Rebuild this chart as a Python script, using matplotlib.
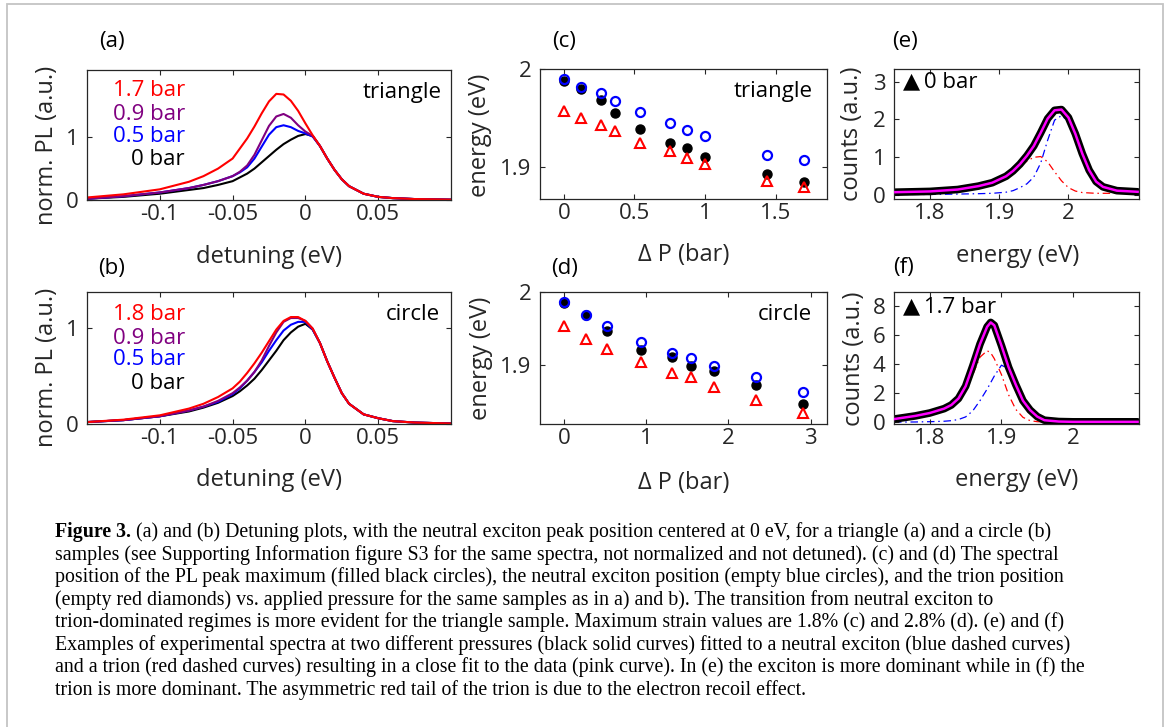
import matplotlib
matplotlib.use('Agg')
import matplotlib.pyplot as plt
from matplotlib.patches import Rectangle

plt.rcParams['font.family'] = ['Open Sans', 'DejaVu Sans']
plt.rcParams['axes.unicode_minus'] = False

# ---------------- data ----------------
# (a) / (b): normalized PL vs detuning
detuning = [-0.15, -0.125, -0.1, -0.08, -0.07, -0.06, -0.05, -0.045, -0.04, -0.035,
            -0.03, -0.025, -0.02, -0.015, -0.01, -0.005, 0.0, 0.005, 0.01, 0.015,
            0.02, 0.025, 0.03, 0.04, 0.05, 0.06, 0.075, 0.1]

tri_0bar = [0.02, 0.05, 0.10, 0.16, 0.19, 0.24, 0.30, 0.36, 0.42, 0.50, 0.60, 0.70, 0.80, 0.89,
            0.96, 1.02, 1.05, 1.02, 0.86, 0.66, 0.48, 0.33, 0.22, 0.10, 0.05, 0.03, 0.015, 0.005]
tri_05bar = [0.02, 0.06, 0.12, 0.19, 0.24, 0.30, 0.38, 0.44, 0.52, 0.66, 0.85, 1.04, 1.16, 1.19,
             1.16, 1.10, 1.06, 1.01, 0.86, 0.66, 0.48, 0.33, 0.22, 0.10, 0.05, 0.03, 0.015, 0.005]
tri_09bar = [0.02, 0.06, 0.12, 0.19, 0.24, 0.30, 0.38, 0.45, 0.55, 0.72, 0.95, 1.18, 1.33, 1.37,
             1.31, 1.19, 1.09, 1.02, 0.86, 0.66, 0.48, 0.33, 0.22, 0.10, 0.05, 0.03, 0.015, 0.005]
tri_17bar = [0.04, 0.09, 0.17, 0.29, 0.38, 0.50, 0.66, 0.82, 0.98, 1.17, 1.38, 1.57, 1.69, 1.68,
             1.58, 1.42, 1.22, 1.03, 0.86, 0.66, 0.48, 0.33, 0.22, 0.10, 0.05, 0.03, 0.015, 0.005]

cir_0bar = [0.02, 0.04, 0.08, 0.13, 0.17, 0.22, 0.29, 0.34, 0.40, 0.47, 0.56, 0.66, 0.76, 0.87,
            0.95, 1.01, 1.04, 0.98, 0.84, 0.65, 0.48, 0.32, 0.21, 0.10, 0.06, 0.03, 0.015, 0.005]
cir_05bar = [0.02, 0.04, 0.08, 0.14, 0.18, 0.23, 0.31, 0.37, 0.45, 0.54, 0.64, 0.76, 0.87, 0.97,
             1.03, 1.06, 1.06, 0.98, 0.84, 0.65, 0.48, 0.32, 0.21, 0.10, 0.06, 0.03, 0.015, 0.005]
cir_09bar = [0.02, 0.04, 0.08, 0.14, 0.18, 0.24, 0.32, 0.38, 0.45, 0.54, 0.66, 0.81, 0.95, 1.06,
             1.10, 1.10, 1.07, 0.99, 0.84, 0.65, 0.48, 0.32, 0.21, 0.10, 0.06, 0.03, 0.015, 0.005]
cir_18bar = [0.02, 0.045, 0.09, 0.16, 0.21, 0.28, 0.37, 0.44, 0.53, 0.63, 0.74, 0.86, 0.98, 1.07,
             1.11, 1.11, 1.07, 0.99, 0.84, 0.65, 0.48, 0.32, 0.21, 0.10, 0.06, 0.03, 0.015, 0.005]

# (c) triangle: peak energies vs pressure
dp_tri = [0, 0.12, 0.26, 0.36, 0.54, 0.75, 0.87, 1.0, 1.44, 1.7]
tri_peak = [1.988, 1.980, 1.969, 1.955, 1.939, 1.925, 1.920, 1.911, 1.893, 1.885]
tri_exciton = [1.990, 1.982, 1.976, 1.968, 1.956, 1.945, 1.938, 1.932, 1.913, 1.908]
tri_trion = [1.957, 1.950, 1.943, 1.937, 1.925, 1.917, 1.910, 1.904, 1.886, 1.880]

# (d) circle
dp_cir = [0, 0.27, 0.53, 0.94, 1.31, 1.55, 1.82, 2.34, 2.91]
cir_peak = [1.985, 1.968, 1.947, 1.921, 1.911, 1.899, 1.892, 1.873, 1.847]
cir_exciton = [1.986, 1.969, 1.954, 1.932, 1.916, 1.909, 1.899, 1.883, 1.863]
cir_trion = [1.953, 1.935, 1.922, 1.904, 1.889, 1.883, 1.870, 1.852, 1.834]

# (e) spectrum at 0 bar and fit components
energy_e = [1.75, 1.8, 1.84, 1.87, 1.89, 1.91, 1.92, 1.93, 1.94, 1.95, 1.96, 1.97, 1.98, 1.99,
            2.0, 2.01, 2.02, 2.03, 2.04, 2.05, 2.07, 2.1]
counts_e = [0.08, 0.10, 0.15, 0.24, 0.33, 0.50, 0.64, 0.82, 1.04, 1.30, 1.65, 2.02, 2.24, 2.26,
            2.05, 1.62, 1.10, 0.66, 0.36, 0.22, 0.12, 0.09]
trion_e = [0.07, 0.09, 0.14, 0.22, 0.32, 0.48, 0.60, 0.75, 0.90, 1.00, 1.02, 0.88, 0.62, 0.38,
           0.20, 0.11, 0.07, 0.06, 0.05, 0.05, 0.05, 0.05]
exciton_e = [0.02, 0.02, 0.03, 0.04, 0.05, 0.08, 0.12, 0.20, 0.30, 0.48, 0.85, 1.45, 1.98, 2.10,
             1.95, 1.55, 1.05, 0.62, 0.32, 0.17, 0.08, 0.05]

# (f) spectrum at 1.7 bar and fit components
energy_f = [1.75, 1.78, 1.8, 1.82, 1.83, 1.84, 1.85, 1.86, 1.87, 1.88, 1.885, 1.89, 1.9, 1.91,
            1.92, 1.93, 1.94, 1.95, 1.96, 1.98, 2.0, 2.05, 2.09]
counts_f = [0.23, 0.45, 0.65, 0.95, 1.2, 1.65, 2.5, 3.9, 5.4, 6.6, 6.9, 6.7, 5.3, 3.8,
            2.6, 1.5, 0.85, 0.4, 0.15, 0.06, 0.04, 0.04, 0.04]
trion_f = [0.2, 0.42, 0.62, 0.9, 1.15, 1.55, 2.2, 3.3, 4.5, 4.95, 4.8, 4.4, 3.3, 1.9,
           0.9, 0.35, 0.12, 0.05, 0.03, 0.02, 0.02, 0.02, 0.02]
exciton_f = [0.02, 0.03, 0.05, 0.08, 0.12, 0.2, 0.38, 0.8, 1.5, 2.3, 2.75, 3.2, 3.95, 3.7,
             2.5, 1.45, 0.8, 0.38, 0.14, 0.05, 0.03, 0.02, 0.02]

# tick labels
det_ticks = [-0.1, -0.05, 0, 0.05]
det_labels = ['-0.1', '-0.05', '0', '0.05']
dp_tri_ticks = [0, 0.5, 1, 1.5]
dp_tri_labels = ['0', '0.5', '1', '1.5']
dp_cir_ticks = [0, 1, 2, 3]
dp_cir_labels = ['0', '1', '2', '3']
en_ticks = [1.8, 1.9, 2.0]
en_labels = ['1.8', '1.9', '2']

caption = [
    ' (a) and (b) Detuning plots, with the neutral exciton peak position centered at 0 eV, for a triangle (a) and a circle (b)',
    'samples (see Supporting Information figure S3 for the same spectra, not normalized and not detuned). (c) and (d) The spectral',
    'position of the PL peak maximum (filled black circles), the neutral exciton position (empty blue circles), and the trion position',
    '(empty red diamonds) vs. applied pressure for the same samples as in a) and b). The transition from neutral exciton to',
    'trion-dominated regimes is more evident for the triangle sample. Maximum strain values are 1.8% (c) and 2.8% (d). (e) and (f)',
    'Examples of experimental spectra at two different pressures (black solid curves) fitted to a neutral exciton (blue dashed curves)',
    'and a trion (red dashed curves) resulting in a close fit to the data (pink curve). In (e) the exciton is more dominant while in (f) the',
    'trion is more dominant. The asymmetric red tail of the trion is due to the electron recoil effect.',
]

# ---------------- figure ----------------
W, H = 1170, 727
fig = plt.figure(figsize=(W / 100, H / 100), dpi=100)
fig.add_artist(Rectangle((7 / W, -0.02), 1156 / W, 1 - 4 / H + 0.02, transform=fig.transFigure,
                         fill=False, ec='#c4c4c4', lw=1.3))

TXT = '#262626'
FS = 16      # ticks and in-axes text
LFS = 17     # axis labels


def add_ax(l, t, r, b):
    ax = fig.add_axes([l / W, 1 - b / H, (r - l) / W, (b - t) / H])
    for s in ax.spines.values():
        s.set_color(TXT)
        s.set_linewidth(0.9)
    ax.tick_params(direction='in', top=True, right=True, length=3.5, width=0.8,
                   colors=TXT, labelsize=FS)
    ax.tick_params(axis='x', pad=3)
    ax.tick_params(axis='y', pad=6)
    return ax


def labels(ax, xl, yl, xc, yc):
    ax.set_xlabel(xl, fontsize=LFS, color=TXT, va='center')
    ax.set_ylabel(yl, fontsize=LFS, color=TXT, va='center')
    ax.xaxis.set_label_coords(xc[0], xc[1])
    ax.yaxis.set_label_coords(yc[0], yc[1])


cols = ['black', '#0000ff', '#800080', '#ff0000']

# (a)
ax = add_ax(87, 70, 451, 200)
for y, c in zip([tri_0bar, tri_05bar, tri_09bar, tri_17bar], cols):
    ax.plot(detuning, y, color=c, lw=1.5)
ax.set_xlim(-0.15, 0.1)
ax.set_ylim(0, 2.07)
ax.set_xticks(det_ticks, det_labels)
ax.set_yticks([0, 1], ['0', '1'])
labels(ax, 'detuning (eV)', 'norm. PL (a.u.)', (0.5, -0.436), (-0.110, 0.423))
for s, c, yy in zip(['1.7 bar', '0.9 bar', '0.5 bar', '0 bar'], cols[::-1], [0.841, 0.659, 0.487, 0.313]):
    ax.text(0.269, yy, s, color=c, fontsize=FS, ha='right', va='center', transform=ax.transAxes)
ax.text(0.973, 0.83, 'triangle', color='black', fontsize=FS, ha='right', va='center', transform=ax.transAxes)

# (b)
ax = add_ax(87, 292, 451, 424)
for y, c in zip([cir_0bar, cir_05bar, cir_09bar, cir_18bar], cols):
    ax.plot(detuning, y, color=c, lw=1.5)
ax.set_xlim(-0.15, 0.1)
ax.set_ylim(0, 1.37)
ax.set_xticks(det_ticks, det_labels)
ax.set_yticks([0, 1], ['0', '1'])
labels(ax, 'detuning (eV)', 'norm. PL (a.u.)', (0.5, -0.424), (-0.110, 0.428))
for s, c, yy in zip(['1.8 bar', '0.9 bar', '0.5 bar', '0 bar'], cols[::-1], [0.826, 0.649, 0.485, 0.309]):
    ax.text(0.269, yy, s, color=c, fontsize=FS, ha='right', va='center', transform=ax.transAxes)
ax.text(0.970, 0.826, 'circle', color='black', fontsize=FS, ha='right', va='center', transform=ax.transAxes)


def scatter_panel(ax, x, pk, ex, tr):
    ax.plot(x, pk, 'o', ms=6.5, mfc='black', mec='black', ls='none')
    ax.plot(x, ex, 'o', ms=6.5, mfc='none', mec='#0000ff', mew=1.6, ls='none')
    ax.plot(x, tr, '^', ms=7, mfc='none', mec='#ff0000', mew=1.5, ls='none')


# (c)
ax = add_ax(540, 69, 827, 199)
scatter_panel(ax, dp_tri, tri_peak, tri_exciton, tri_trion)
ax.set_xlim(-0.17, 1.865)
ax.set_ylim(1.868, 2.0)
ax.set_xticks(dp_tri_ticks, dp_tri_labels)
ax.set_yticks([1.9, 2.0], ['1.9', '2'])
labels(ax, 'Δ P (bar)', 'energy (eV)', (0.5, -0.43), (-0.209, 0.49))
ax.text(0.951, 0.825, 'triangle', fontsize=FS, ha='right', va='center', transform=ax.transAxes)

# (d)
ax = add_ax(540, 292, 827, 424)
scatter_panel(ax, dp_cir, cir_peak, cir_exciton, cir_trion)
ax.set_xlim(-0.29, 3.2)
ax.set_ylim(1.819, 2.0)
ax.set_xticks(dp_cir_ticks, dp_cir_labels)
ax.set_yticks([1.9, 2.0], ['1.9', '2'])
labels(ax, 'Δ P (bar)', 'energy (eV)', (0.5, -0.447), (-0.206, 0.5))
ax.text(0.948, 0.826, 'circle', fontsize=FS, ha='right', va='center', transform=ax.transAxes)

DD = (0, (6, 3, 1.2, 3))


def spectrum_panel(ax, x, counts, ex, tr):
    ax.plot(x, ex, color='#0000ff', lw=0.9, ls=DD, zorder=1)
    ax.plot(x, tr, color='#ff0000', lw=0.9, ls=DD, zorder=1)
    ax.plot(x, counts, color='black', lw=5.5, solid_capstyle='round', solid_joinstyle='round', zorder=2)
    ax.plot(x, counts, color='#ff00ff', lw=1.8, solid_joinstyle='round', zorder=3)


# (e)
ax = add_ax(894, 69, 1139, 199)
spectrum_panel(ax, energy_e, counts_e, exciton_e, trion_e)
ax.set_xlim(1.748, 2.102)
ax.set_ylim(-0.1, 3.33)
ax.set_xticks(en_ticks, en_labels)
ax.set_yticks([0, 1, 2, 3], ['0', '1', '2', '3'])
labels(ax, 'energy (eV)', 'counts (a.u.)', (0.506, -0.438), (-0.173, 0.5))
ax.text(0.037, 0.902, '▲\u20090 bar', fontsize=FS, ha='left', va='center', transform=ax.transAxes)

# (f)
ax = add_ax(894, 292, 1139, 424)
spectrum_panel(ax, energy_f, counts_f, exciton_f, trion_f)
ax.set_xlim(1.75, 2.092)
ax.set_ylim(-0.11, 9.0)
ax.set_xticks(en_ticks, en_labels)
ax.set_yticks([0, 2, 4, 6, 8], ['0', '2', '4', '6', '8'])
labels(ax, 'energy (eV)', 'counts (a.u.)', (0.5, -0.424), (-0.163, 0.496))
ax.text(0.037, 0.889, '▲\u20091.7 bar', fontsize=FS, ha='left', va='center', transform=ax.transAxes)

# panel letters
for s, x, y in [('(a)', 112, 42), ('(b)', 112, 268), ('(c)', 564, 42),
                ('(d)', 565, 268), ('(e)', 905, 42), ('(f)', 903, 267)]:
    fig.text(x / W, 1 - y / H, s, fontsize=FS, color='black', ha='center', va='center')

# caption
CAP_FONT = 'Liberation Serif'
CAP_FS = 14.3
rend = fig.canvas.get_renderer()
for i, line in enumerate(caption):
    yb = 1 - (537.3 + i * 22.5) / H
    x0 = 55 / W
    if i == 0:
        t = fig.text(x0, yb, 'Figure 3.', family=CAP_FONT, weight='bold', fontsize=CAP_FS,
                     va='baseline', ha='left')
        x0 = t.get_window_extent(rend).x1 / W
    fig.text(x0, yb, line, family=CAP_FONT, fontsize=CAP_FS, va='baseline', ha='left')

fig.savefig('out.png', dpi=100)
